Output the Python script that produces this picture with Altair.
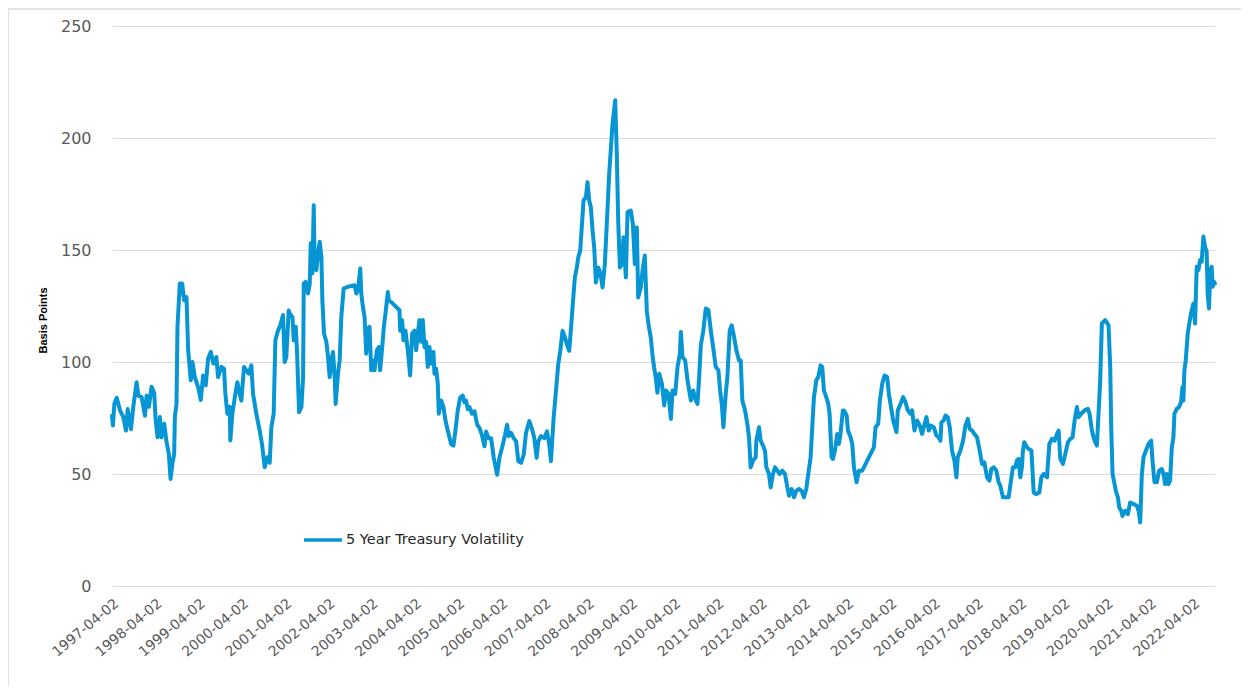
import altair as alt
import pandas as pd

series_name = "5 Year Treasury Volatility"

# decimal-year positions
years = [
    1997.250, 1997.270, 1997.304, 1997.358, 1997.435, 1997.512, 1997.573, 1997.612, 1997.688, 1997.742,
    1997.819, 1997.858, 1997.935, 1998.012, 1998.050, 1998.104, 1998.165, 1998.227, 1998.258, 1998.304,
    1998.358, 1998.396, 1998.458, 1998.512, 1998.565, 1998.604, 1998.650, 1998.688, 1998.704, 1998.742,
    1998.765, 1998.819, 1998.873, 1998.919, 1998.973, 1999.012, 1999.073, 1999.112, 1999.165, 1999.242,
    1999.304, 1999.358, 1999.419, 1999.473, 1999.535, 1999.596, 1999.665, 1999.704, 1999.781, 1999.842,
    1999.873, 1999.919, 1999.973, 1999.988, 2000.035, 2000.104, 2000.150, 2000.204, 2000.242, 2000.304,
    2000.358, 2000.412, 2000.473, 2000.512, 2000.588, 2000.665, 2000.719, 2000.781, 2000.842, 2000.896,
    2000.935, 2000.988, 2001.027, 2001.088, 2001.142, 2001.204, 2001.242, 2001.281, 2001.335,
    2001.361, 2001.423, 2001.453, 2001.500, 2001.530, 2001.576, 2001.630, 2001.669, 2001.684, 2001.730,
    2001.784, 2001.823, 2001.846, 2001.884, 2001.915, 2001.938, 2001.976, 2002.015, 2002.053, 2002.092,
    2002.115, 2002.153, 2002.207, 2002.246, 2002.284, 2002.323, 2002.361, 2002.400, 2002.423, 2002.476,
    2002.515, 2002.553, 2002.607, 2002.707, 2002.861, 2002.900, 2002.938, 2002.992, 2003.015, 2003.053,
    2003.092, 2003.130, 2003.169, 2003.207, 2003.246, 2003.284, 2003.323, 2003.376, 2003.423, 2003.453,
    2003.500, 2003.538, 2003.576, 2003.630, 2003.653, 2003.746, 2003.900, 2003.915, 2003.961, 2003.992,
    2004.038, 2004.092, 2004.146, 2004.192, 2004.246, 2004.284, 2004.323, 2004.361, 2004.400, 2004.438,
    2004.476, 2004.515, 2004.553, 2004.592, 2004.630, 2004.684, 2004.707, 2004.746, 2004.784, 2004.807,
    2004.861, 2004.915, 2004.961, 2005.015, 2005.053, 2005.092, 2005.146, 2005.192, 2005.246, 2005.300,
    2005.361, 2005.400, 2005.438, 2005.476, 2005.515, 2005.576,
    2005.633, 2005.695, 2005.748, 2005.802, 2005.864, 2005.902, 2005.956, 2006.018, 2006.079, 2006.156,
    2006.210, 2006.287, 2006.341, 2006.387, 2006.425, 2006.479, 2006.541, 2006.595, 2006.648, 2006.710,
    2006.772, 2006.825, 2006.902, 2006.956, 2007.018, 2007.071, 2007.110, 2007.171, 2007.248, 2007.310,
    2007.364, 2007.402, 2007.464, 2007.518, 2007.571, 2007.618, 2007.671, 2007.725, 2007.771, 2007.825,
    2007.879, 2007.925, 2007.956, 2008.002, 2008.033, 2008.079, 2008.110, 2008.156, 2008.210, 2008.248,
    2008.287, 2008.325, 2008.364, 2008.402, 2008.441, 2008.495, 2008.541, 2008.595, 2008.648, 2008.748,
    2008.825, 2008.887, 2008.925, 2008.956, 2008.995, 2009.041, 2009.079, 2009.133, 2009.172, 2009.248,
    2009.295, 2009.341, 2009.387, 2009.418, 2009.479, 2009.518, 2009.572, 2009.618, 2009.656, 2009.710,
    2009.748, 2009.787, 2009.825, 2009.864,
    2009.906, 2009.968, 2010.021, 2010.060, 2010.121, 2010.175, 2010.214, 2010.275, 2010.329, 2010.383,
    2010.406, 2010.444, 2010.506, 2010.560, 2010.637, 2010.691, 2010.752, 2010.791, 2010.829, 2010.868,
    2010.921, 2010.983, 2011.044, 2011.098, 2011.152, 2011.214, 2011.275, 2011.314, 2011.352, 2011.391,
    2011.444, 2011.483, 2011.537, 2011.583, 2011.637, 2011.691, 2011.752, 2011.791, 2011.829, 2011.891,
    2011.944, 2011.983, 2012.021, 2012.075, 2012.137, 2012.152, 2012.214, 2012.252, 2012.306, 2012.352,
    2012.383, 2012.444, 2012.483, 2012.537, 2012.583, 2012.637, 2012.691, 2012.752, 2012.814, 2012.868,
    2012.906, 2012.968, 2013.021, 2013.075, 2013.137, 2013.198, 2013.252, 2013.306, 2013.352, 2013.406,
    2013.444, 2013.483, 2013.537, 2013.583, 2013.637, 2013.675, 2013.714, 2013.768, 2013.814, 2013.845,
    2013.891, 2013.921, 2013.968, 2014.021, 2014.060, 2014.098, 2014.152,
    2014.178, 2014.240, 2014.270, 2014.332, 2014.370, 2014.409, 2014.470, 2014.524, 2014.601, 2014.716,
    2014.870, 2014.909, 2014.970, 2015.009, 2015.063, 2015.116, 2015.178, 2015.216, 2015.255, 2015.316,
    2015.393, 2015.424, 2015.486, 2015.547, 2015.601, 2015.655, 2015.716, 2015.755, 2015.809, 2015.870,
    2015.932, 2015.986, 2016.024, 2016.086, 2016.140, 2016.193, 2016.255, 2016.316, 2016.370, 2016.409,
    2016.432, 2016.486, 2016.524, 2016.578, 2016.624, 2016.678, 2016.732, 2016.778, 2016.809, 2016.870,
    2016.932, 2016.986, 2017.040, 2017.086, 2017.140, 2017.193, 2017.255, 2017.316, 2017.370, 2017.424,
    2017.486, 2017.540, 2017.586, 2017.640, 2017.701, 2017.755, 2017.793, 2017.855, 2017.909, 2017.986,
    2018.040, 2018.086, 2018.140, 2018.178, 2018.216, 2018.255, 2018.293, 2018.316, 2018.347, 2018.409,
    2018.451, 2018.513, 2018.566, 2018.620, 2018.697, 2018.743, 2018.797, 2018.874, 2018.928, 2018.990,
    2019.051, 2019.105, 2019.143, 2019.182, 2019.243, 2019.297, 2019.359, 2019.413, 2019.466, 2019.513,
    2019.566, 2019.605, 2019.666, 2019.743, 2019.820, 2019.859, 2019.913, 2019.951, 2019.990, 2020.028,
    2020.066, 2020.105, 2020.143, 2020.220, 2020.297, 2020.336, 2020.359, 2020.390, 2020.436, 2020.466,
    2020.513, 2020.543, 2020.589, 2020.620, 2020.682, 2020.743, 2020.797, 2020.874, 2020.951, 2020.990,
    2021.028, 2021.066, 2021.105, 2021.159, 2021.220, 2021.282, 2021.313, 2021.359, 2021.413, 2021.466,
    2021.528, 2021.566, 2021.605, 2021.643, 2021.682, 2021.720, 2021.759, 2021.797, 2021.820, 2021.874,
    2021.928, 2021.974, 2022.005, 2022.028, 2022.051, 2022.082, 2022.128, 2022.182, 2022.220, 2022.259,
    2022.297, 2022.336, 2022.374, 2022.413, 2022.451, 2022.490, 2022.528, 2022.566, 2022.589, 2022.620,
    2022.651, 2022.682, 2022.705, 2022.736, 2022.759,
]

# volatility in basis points
vols = [
    76.0, 71.6, 81.3, 84.0, 78.4, 75.4, 69.4, 79.0, 70.0, 80.0,
    91.0, 85.0, 84.3, 76.0, 85.0, 80.0, 89.0, 86.0, 74.6, 66.4,
    75.4, 66.4, 72.4, 64.2, 59.0, 47.8, 55.0, 59.0, 75.4, 81.3,
    115.7, 135.0, 135.0, 127.6, 129.0, 105.2, 91.8, 100.0, 93.3, 88.8,
    83.0, 94.0, 89.6, 101.5, 104.5, 99.3, 102.2, 93.3, 97.8, 97.0,
    85.8, 76.9, 80.0, 65.0, 76.9, 85.8, 91.0, 85.8, 82.8, 97.8,
    96.3, 94.8, 98.5, 85.8, 76.9, 69.4, 63.4, 53.0, 57.5, 55.0,
    70.9, 76.9, 109.7, 114.0, 116.4, 121.0, 100.0, 102.2, 123.0,
    121.6, 120.0, 109.7, 115.7, 103.7, 77.6, 79.9, 93.3, 135.0, 135.8,
    130.6, 135.0, 153.0, 139.6, 170.0, 142.5, 141.0, 148.5, 153.7, 147.0,
    127.6, 112.7, 109.0, 102.2, 93.3, 100.7, 104.5, 93.3, 81.3, 94.8,
    100.7, 120.0, 132.8, 133.6, 134.3, 130.6, 132.0, 141.8, 130.6, 124.6,
    120.0, 103.7, 115.0, 115.7, 96.3, 100.7, 96.3, 105.2, 106.7, 96.3,
    106.7, 115.7, 121.6, 131.3, 127.6, 126.1, 123.1, 114.0, 118.7, 109.7,
    114.0, 105.2, 94.0, 112.7, 114.0, 105.2, 112.7, 118.7, 109.0, 118.7,
    106.7, 109.0, 97.8, 106.7, 99.3, 104.5, 94.8, 97.0, 90.3, 76.9,
    82.8, 79.9, 73.9, 69.4, 66.4, 63.4, 62.7, 69.4, 78.4, 84.0,
    85.0, 82.0, 82.8, 79.0, 79.9, 76.9,
    78.0, 72.0, 70.6, 67.6, 62.4, 69.0, 66.0, 66.0, 57.2, 49.7,
    57.2, 63.1, 67.6, 72.0, 66.9, 68.4, 66.0, 64.6, 55.7, 55.0,
    58.7, 68.4, 73.6, 70.6, 66.0, 57.2, 64.6, 66.9, 66.0, 69.0,
    63.1, 55.7, 75.0, 87.0, 99.0, 105.0, 113.9, 111.0, 108.0, 105.0,
    118.4, 130.3, 137.8, 142.2, 146.7, 149.7, 158.7, 172.1, 173.6, 180.3,
    172.1, 169.1, 158.7, 151.2, 135.5, 142.2, 140.0, 133.3, 143.7, 184.0,
    206.4, 216.9, 191.5, 163.1, 142.2, 143.7, 155.7, 137.8, 166.9, 167.6,
    161.6, 143.7, 160.1, 128.8, 133.3, 140.7, 147.5, 122.8, 116.9, 110.9,
    103.4, 97.5, 93.0, 86.3,
    94.8, 90.3, 80.6, 87.3, 85.8, 74.6, 87.3, 85.8, 97.8, 103.7,
    113.4, 102.2, 100.7, 91.8, 82.8, 87.3, 82.8, 81.3, 93.3, 107.5,
    113.4, 123.9, 123.1, 114.2, 106.7, 97.8, 96.3, 87.3, 81.3, 70.9,
    85.8, 93.3, 114.2, 116.4, 111.2, 105.2, 100.7, 100.7, 82.8, 78.4,
    72.4, 66.4, 53.0, 56.0, 57.5, 64.9, 70.9, 64.9, 62.7, 60.4,
    53.0, 50.0, 44.0, 50.0, 53.0, 51.5, 50.0, 51.5, 50.0, 44.0,
    40.3, 43.3, 39.6, 42.5, 43.3, 42.5, 39.6, 43.3, 50.0, 57.5,
    70.9, 84.3, 91.8, 93.3, 98.5, 97.8, 87.3, 84.3, 81.3, 76.9,
    57.5, 56.7, 60.4, 67.9, 63.4, 67.9, 78.4,
    78.4, 76.1, 69.4, 66.4, 63.4, 53.0, 46.3, 51.5, 51.5, 56.0,
    61.9, 70.9, 72.4, 82.8, 90.3, 94.0, 93.3, 85.8, 81.3, 73.9,
    68.7, 78.4, 81.3, 84.3, 82.1, 78.4, 76.9, 78.4, 69.4, 73.9,
    71.6, 67.9, 70.9, 75.4, 69.4, 71.6, 70.9, 67.2, 66.4, 64.9,
    73.1, 73.9, 76.1, 75.4, 70.9, 60.4, 56.0, 48.5, 57.5, 60.4,
    64.9, 71.6, 74.6, 70.1, 69.4, 67.9, 66.4, 60.4, 54.5, 55.2,
    48.5, 47.0, 52.2, 53.0, 51.5, 46.3, 44.8, 39.6, 39.6, 39.6,
    47.0, 53.0, 53.0, 56.0, 56.7, 48.5, 53.0, 60.4, 64.2, 61.9,
    61.2, 60.4, 41.8, 41.0, 41.8, 48.5, 50.0, 48.5, 63.4, 65.7,
    64.9, 67.9, 69.4, 56.7, 54.5, 59.0, 64.2, 65.7, 66.4, 73.9,
    79.9, 75.4, 76.9, 78.4, 79.1, 76.9, 69.4, 66.4, 64.2, 62.7,
    76.9, 91.8, 117.2, 118.7, 116.4, 97.8, 70.9, 50.0, 45.5, 42.5,
    39.6, 35.1, 33.6, 31.3, 33.6, 32.1, 37.3, 36.6, 35.8, 33.6,
    28.4, 50.0, 57.5, 60.4, 63.4, 64.9, 56.0, 46.3, 46.3, 51.5,
    52.2, 50.0, 45.5, 50.0, 45.5, 47.0, 61.9, 66.4, 76.9, 79.1,
    79.9, 82.1, 88.8, 82.8, 96.3, 100.7, 112.7, 119.4, 123.1, 126.1,
    117.2, 142.5, 141.0, 145.5, 144.8, 156.0, 151.5, 149.3, 130.6, 123.9,
    141.0, 142.5, 133.6, 135.8, 135.0,
]

tick_years = list(range(1997, 2023))
y_ticks = [0, 50, 100, 150, 200, 250]


def dec_to_ts(y):
    yr = int(y)
    start = pd.Timestamp(year=yr, month=1, day=1)
    end = pd.Timestamp(year=yr + 1, month=1, day=1)
    return start + (end - start) * (y - yr)


def to_dt(ts):
    return alt.DateTime(year=ts.year, month=ts.month, date=ts.day,
                        hours=ts.hour, minutes=ts.minute)


stamps = [dec_to_ts(y) for y in years]
df = pd.DataFrame({
    "date": [s.strftime("%Y-%m-%dT%H:%M:%S") for s in stamps],
    "vol": vols,
    "series": series_name,
})

FONT = "DejaVu Sans"
GREY = "#595959"

line = alt.Chart(df).mark_line(
    strokeWidth=4, strokeJoin="round", strokeCap="round"
).encode(
    x=alt.X(
        "date:T",
        title=None,
        scale=alt.Scale(
            domain=[alt.DateTime(year=tick_years[0], month=4, date=2), to_dt(stamps[-1])],
            nice=False,
        ),
        axis=alt.Axis(
            values=[alt.DateTime(year=y, month=4, date=2) for y in tick_years],
            format="%Y-%m-%d",
            labelAngle=-40,
            labelAlign="right",
            labelBaseline="top",
            labelFont=FONT,
            labelFontSize=14,
            labelColor=GREY,
            labelPadding=10,
            ticks=False,
            tickSize=0,
            domain=False,
            grid=False,
            labelOverlap=False,
            labelFlush=False,
        ),
    ),
    y=alt.Y(
        "vol:Q",
        title="Basis Points",
        scale=alt.Scale(domain=[0, 250], nice=False),
        axis=alt.Axis(
            values=y_ticks,
            labelFont=FONT,
            labelFontSize=16,
            labelColor=GREY,
            labelPadding=21,
            ticks=False,
            domain=False,
            grid=True,
            gridColor="#d9d9d9",
            gridWidth=1,
            titleFont="Liberation Sans",
            titleFontSize=11,
            titleFontWeight="bold",
            titleColor="#000000",
            titleAngle=-90,
            titleX=-69,
            titleY=294,
            titleAlign="center",
            titleBaseline="middle",
        ),
    ),
    color=alt.Color(
        "series:N",
        scale=alt.Scale(domain=[series_name], range=["#0795D3"]),
        legend=alt.Legend(
            title=None,
            orient="none",
            legendX=190,
            legendY=493,
            symbolType="stroke",
            symbolSize=1444,
            symbolStrokeWidth=3.5,
            labelFont=FONT,
            labelFontSize=14.5,
            labelColor="#262626",
            labelOffset=2,
            labelLimit=400,
            padding=0,
        ),
    ),
)

frame = alt.Chart(pd.DataFrame({"k": [0]})).mark_rect(
    fill=None, stroke="#d9d9d9", strokeWidth=1.5
).encode(
    x=alt.value(-104), x2=alt.value(1180), y=alt.value(-17), y2=alt.value(720)
)

chart = alt.layer(frame, line).properties(
    width=1103,
    height=560,
    autosize=alt.AutoSizeParams(type="none"),
    padding={"left": 104, "top": 18, "right": 26, "bottom": 100},
    background="white",
).configure_view(stroke=None)

chart.save("out.html", embed_options={"renderer": "svg", "actions": False})
